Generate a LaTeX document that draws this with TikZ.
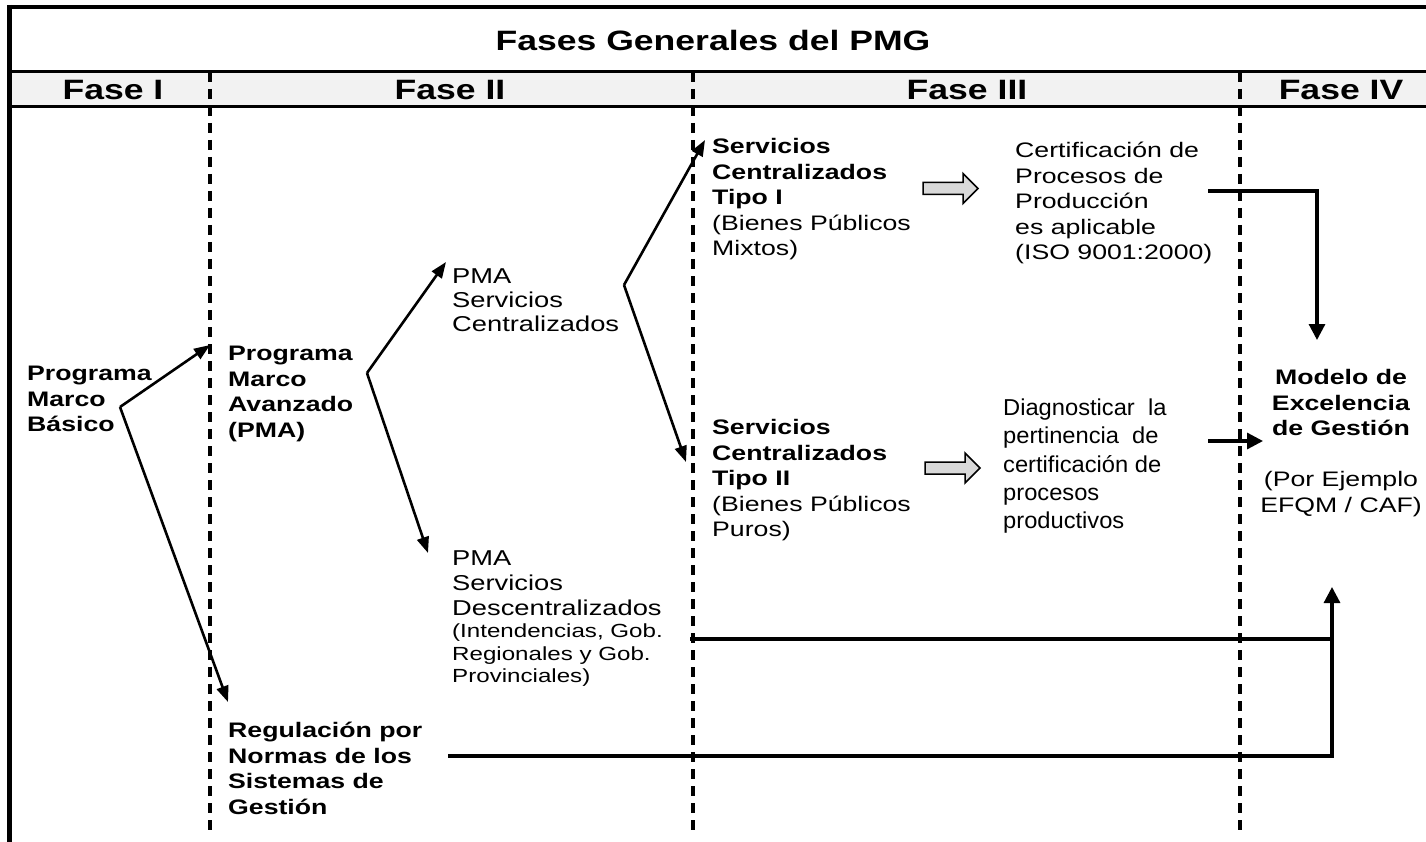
\documentclass[tikz,border=0pt]{standalone}
\usepackage{fontspec}
\setmainfont{Liberation Sans}[FakeStretch=1.27]
\newfontfamily\narrowfont{Liberation Sans}[FakeStretch=1.03]
\usetikzlibrary{arrows.meta}
\definecolor{hdrgray}{HTML}{F2F2F2}
\definecolor{blockgray}{HTML}{D9D9D9}
\newcommand\smalltxt{\fontsize{19}{22}\selectfont}
\begin{document}
\begin{tikzpicture}[x=1pt,y=-1pt,
  frame/.style={line width=3pt},
  phaseline/.style={line width=3.3pt, dash pattern=on 10pt off 7pt},
  hdr/.style={font=\bfseries\fontsize{28}{32}\selectfont, inner sep=0},
  txt/.style={anchor=north west, inner sep=0, align=left, font=\fontsize{21}{25.5}\selectfont},
  btxt/.style={txt, font=\bfseries\fontsize{21}{25.5}\selectfont},
  diag/.style={line width=2.6pt, -{Triangle[length=16pt,width=12pt]}},
  link/.style={line width=3.2pt},
  linkarr/.style={line width=3.2pt, -{Triangle[length=16pt,width=16pt]}},
  blockarrow/.style={draw=black, line width=1.5pt, fill=blockgray, line join=miter}
]
\useasboundingbox (0,0) rectangle (1426,842);
% frame and header
\fill[hdrgray] (8,72) rectangle (1426,107);
\draw[frame, line width=4pt] (1426,7) -- (8,7);
\draw[frame, line width=5pt] (9,5) -- (9,842);
\draw[frame] (8,72) -- (1426,72);
\draw[frame] (8,107) -- (1426,107);
% phase separators
\draw[phaseline] (210,72) -- (210,834);
\draw[phaseline] (693,72) -- (693,834);
\draw[phaseline] (1240,72) -- (1240,834);
% titles
\node[hdr] (title) at (713,40) {Fases Generales del PMG};
\node[hdr] (f1) at (113,90) {Fase I};
\node[hdr] (f2) at (450,90) {Fase II};
\node[hdr] (f3) at (967,90) {Fase III};
\node[hdr] (f4) at (1341,90) {Fase IV};
% text blocks
\node[btxt] (basico) at (27,362.7) {\strut Programa\\Marco\\Básico};
\node[btxt] (pma) at (228,342.7) {\strut Programa\\Marco\\Avanzado\\(PMA)};
\node[txt, font=\fontsize{21.5}{24}\selectfont] (pmasc) at (452,266.7) {\strut PMA\\Servicios\\Centralizados};
\node[txt, font=\fontsize{21.5}{25}\selectfont] (pmadesc) at (452,547.7) {\strut PMA\\Servicios\\Descentralizados\\[-3pt]\smalltxt (Intendencias, Gob.\\[-2pt]\smalltxt Regionales y Gob.\\[-3pt]\smalltxt Provinciales)};
\node[btxt] (reg) at (228,719.7) {\strut Regulación por\\Normas de los\\Sistemas de\\Gestión};
\node[txt] (tipo1) at (712,135.7) {\strut\textbf{Servicios}\\\textbf{Centralizados}\\\textbf{Tipo I}\\(Bienes Públicos\\Mixtos)};
\node[txt] (tipo2) at (712,416.7) {\strut\textbf{Servicios}\\\textbf{Centralizados}\\\textbf{Tipo II}\\(Bienes Públicos\\Puros)};
\node[txt] (cert) at (1015,139.7) {\strut Certificación de\\Procesos de\\Producción\\es aplicable\\(ISO 9001:2000)};
\node[txt, font=\narrowfont\fontsize{23}{28.3}\selectfont] (diag) at (1003,395.4) {\strut Diagnosticar\ \ la\\pertinencia\ \ de\\certificación de\\procesos\\productivos};
\node[txt, anchor=north, align=center] (modelo) at (1341,366.7) {\strut\textbf{Modelo de}\\\textbf{Excelencia}\\\textbf{de Gestión}\\[25.5pt](Por Ejemplo\\EFQM / CAF)};
% block arrows
\draw[blockarrow] (923,182.5) -- (963,182.5) -- (963,173.5) -- (978,188.5) -- (963,203.5) -- (963,194.5) -- (923,194.5) -- cycle;
\draw[blockarrow] (925,462) -- (965,462) -- (965,453) -- (980,468) -- (965,483) -- (965,474) -- (925,474) -- cycle;
% connector end points
\coordinate (bas-out) at (120,407);
\coordinate (pma-in) at (210,345);
\coordinate (reg-in) at (228,702);
\coordinate (pma-out) at (367,373);
\coordinate (pmasc-in) at (446,262);
\coordinate (pmadesc-in) at (428,553);
\coordinate (pmasc-out) at (624,285);
\coordinate (tipo1-in) at (705,140);
\coordinate (tipo2-in) at (686,462);
\coordinate (cert-out) at (1208,191);
\coordinate (mod-top) at (1317,340);
\coordinate (diag-out) at (1208,441);
\coordinate (mod-left) at (1263,441);
\coordinate (desc-out) at (690,639);
\coordinate (reg-out) at (448,756);
\coordinate (mod-bottom) at (1332,587);
% connectors
\draw[diag] (bas-out) -- (pma-in);
\draw[diag] (bas-out) -- (reg-in);
\draw[diag] (pma-out) -- (pmasc-in);
\draw[diag] (pma-out) -- (pmadesc-in);
\draw[diag] (pmasc-out) -- (tipo1-in);
\draw[diag] (pmasc-out) -- (tipo2-in);
\draw[linkarr] (cert-out) -| (mod-top);
\draw[linkarr] (diag-out) -- (mod-left);
\draw[link] (desc-out) -- (desc-out -| mod-bottom);
\draw[linkarr] (reg-out) -| (mod-bottom);
\end{tikzpicture}
\end{document}
